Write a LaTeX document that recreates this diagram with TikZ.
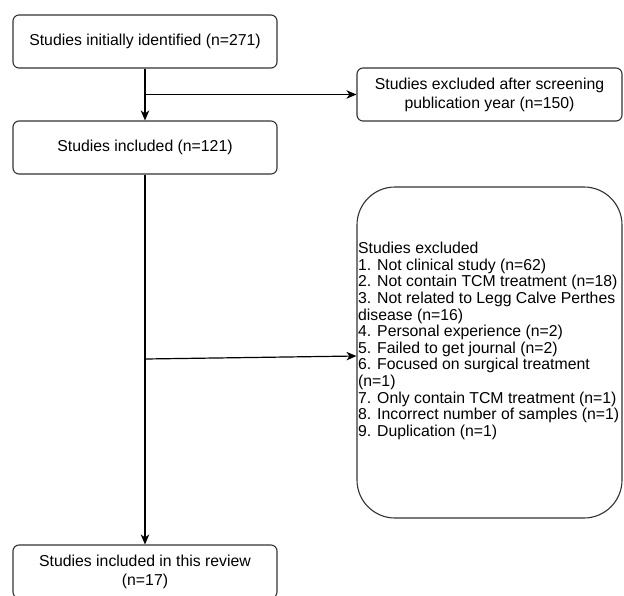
\documentclass[tikz,border=0pt]{standalone}
\usepackage{fontspec}
\setmainfont{Liberation Sans}
\usetikzlibrary{arrows.meta}

\begin{document}
\begin{tikzpicture}[x=1pt, y=-1pt,
	box/.style={draw=black!80, line width=1.1pt, rounded corners=6pt, fill=white,
		minimum width=264pt, minimum height=53pt, align=center, inner sep=0pt,
		font=\fontsize{15.8}{19}\selectfont},
	flow/.style={line width=1.2pt, -{Stealth[length=10pt, width=8.5pt, inset=3pt]}}]
	\clip (0, 0) rectangle (624, 595);
	\fill[white] (0, 0) rectangle (624, 595);
	\node[box] (ident) at (145, 41.5) {Studies initially identified (n=271)};
	\node[box, minimum width=265pt] (excl1) at (489.5, 94.5) {Studies excluded after screening\\publication year (n=150)};
	\node[box] (incl) at (145, 147.5) {Studies included (n=121)};
	\node[box, minimum width=265pt, minimum height=331pt, rounded corners=38pt] (excl2) at (489.5, 352.5) {};
	\node[anchor=west, align=left, inner sep=0pt, font=\fontsize{15.8}{16.6}\selectfont] (excl2txt) at (358, 341) {Studies excluded\\
		1. Not clinical study (n=62)\\
		2. Not contain TCM treatment (n=18)\\
		3. Not related to Legg Calve Perthes\\
		disease (n=16)\\
		4. Personal experience (n=2)\\
		5. Failed to get journal (n=2)\\
		6. Focused on surgical treatment\\
		(n=1)\\
		7. Only contain TCM treatment (n=1)\\
		8. Incorrect number of samples (n=1)\\
		9. Duplication (n=1)};
	\node[box] (review) at (145, 571.5) {Studies included in this review\\(n=17)};
	% split points on the main line
	\coordinate (split1) at (145, 94.5);
	\coordinate (split2) at (145, 359);
	\draw[flow] (ident) -- (incl);
	\draw[flow] (split1) -- (excl1);
	\draw[flow] (incl) -- (review);
	\draw[flow] (split2) -- ([yshift=-3.5pt]excl2.west);
\end{tikzpicture}
\end{document}
